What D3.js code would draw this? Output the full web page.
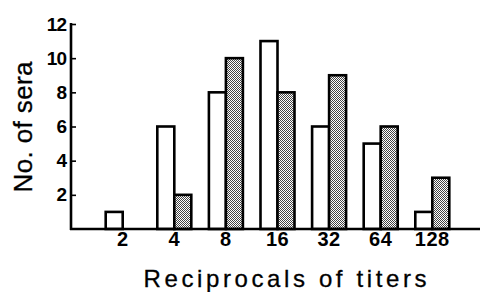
<!DOCTYPE html>
<html>
<head>
<meta charset="utf-8">
<script src="https://cdn.jsdelivr.net/npm/d3@7"></script>
<style>
  html, body { margin: 0; padding: 0; background: #fff; }
  svg { display: block; }
</style>
</head>
<body>
<svg id="chart" width="480" height="292"></svg>
<script>
const categories = ["2", "4", "8", "16", "32", "64", "128"];
const whiteValues = [1, 6, 8, 11, 6, 5, 1];
const grayValues = [0, 2, 10, 8, 9, 6, 3];
const yTicks = [2, 4, 6, 8, 10, 12];

const svg = d3.select("#chart");

const defs = svg.append("defs");
const pat = defs.append("pattern")
  .attr("id", "stipple").attr("patternUnits", "userSpaceOnUse")
  .attr("width", 2).attr("height", 2);
pat.append("rect").attr("width", 2).attr("height", 2).attr("fill", "#fff");
pat.append("rect").attr("x", 0).attr("y", 0).attr("width", 1).attr("height", 1).attr("fill", "#444");
pat.append("rect").attr("x", 1).attr("y", 1).attr("width", 1).attr("height", 1).attr("fill", "#444");

const x = d3.scaleBand().domain(categories).range([96.9, 458.1]).padding(0);
const y = d3.scaleLinear().domain([0, 12]).range([229, 24]);

const barW = 17;
const sw = 2.6;

const g = svg.append("g");

// white bars
g.selectAll("rect.w").data(categories.map((c, i) => ({c, v: whiteValues[i]})).filter(d => d.v > 0))
  .join("rect")
  .attr("x", d => x(d.c) + x.bandwidth() / 2 - barW)
  .attr("y", d => y(d.v))
  .attr("width", barW)
  .attr("height", d => y(0) - y(d.v))
  .attr("fill", "#fff").attr("stroke", "#000").attr("stroke-width", sw);

// gray bars
g.selectAll("rect.g").data(categories.map((c, i) => ({c, v: grayValues[i]})).filter(d => d.v > 0))
  .join("rect")
  .attr("x", d => x(d.c) + x.bandwidth() / 2)
  .attr("y", d => y(d.v))
  .attr("width", barW)
  .attr("height", d => y(0) - y(d.v))
  .attr("fill", "url(#stipple)").attr("stroke", "#000").attr("stroke-width", sw);

// y axis
const yAxis = d3.axisRight(y).tickValues(yTicks).tickSize(5).tickFormat("");
const ya = svg.append("g").attr("transform", "translate(71,0)").call(yAxis);
ya.select(".domain").remove();
ya.selectAll(".tick line").attr("stroke", "#000").attr("stroke-width", 1.6);
svg.append("line").attr("x1", 71).attr("x2", 71).attr("y1", y(12) - 1).attr("y2", y(0) + 1)
  .attr("stroke", "#000").attr("stroke-width", 2.6);

svg.selectAll("text.ylab").data(yTicks).join("text")
  .attr("class", "ylab")
  .attr("x", 66).attr("y", d => y(d))
  .attr("text-anchor", "end").attr("dominant-baseline", "central")
  .attr("font-family", "Liberation Sans, Arial, sans-serif").attr("font-weight", "bold").attr("font-size", 19)
  .attr("letter-spacing", -1)
  .text(d => d);

// x baseline
svg.append("line").attr("x1", 70).attr("x2", 480).attr("y1", y(0)).attr("y2", y(0))
  .attr("stroke", "#000").attr("stroke-width", 2.6);

// x tick labels
const xAxis = d3.axisBottom(x).tickSize(0).tickPadding(0);
const xa = svg.append("g").call(xAxis);
xa.select(".domain").remove();
xa.selectAll(".tick text")
  .attr("y", 246).attr("dy", null)
  .attr("fill", "#000")
  .attr("font-family", "Liberation Sans, Arial, sans-serif").attr("font-weight", "bold").attr("font-size", 20)
  .attr("letter-spacing", 0.5);

// axis titles
svg.append("text")
  .attr("x", 285).attr("y", 287)
  .attr("text-anchor", "middle")
  .attr("font-family", "Liberation Sans, Arial, sans-serif").attr("font-size", 24)
  .attr("stroke", "#000").attr("stroke-width", 0.3)
  .attr("textLength", 283).attr("lengthAdjust", "spacing")
  .text("Reciprocals of titers");

svg.append("text")
  .attr("transform", "translate(32,127) rotate(-90)")
  .attr("text-anchor", "middle")
  .attr("font-family", "Liberation Sans, Arial, sans-serif").attr("font-size", 26)
  .attr("stroke", "#000").attr("stroke-width", 0.3)
  .attr("textLength", 131).attr("lengthAdjust", "spacing")
  .text("No. of sera");
</script>
</body>
</html>
